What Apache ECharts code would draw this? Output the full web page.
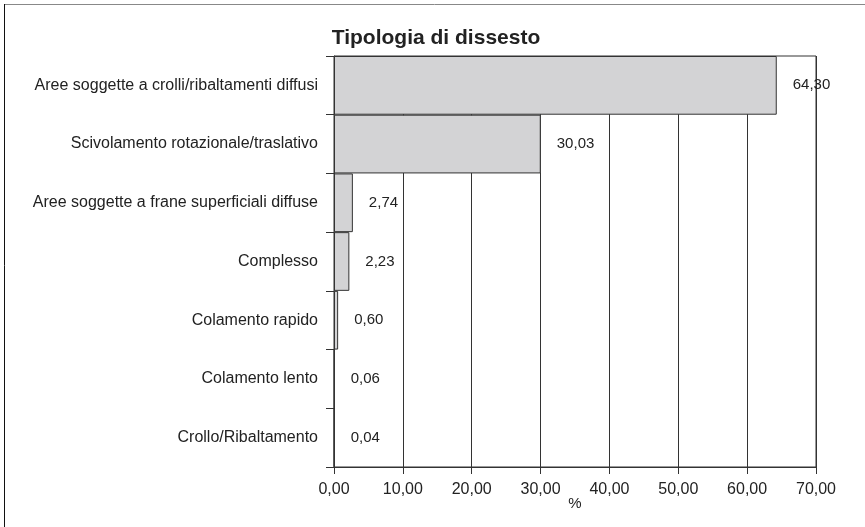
<!DOCTYPE html>
<html>
<head>
<meta charset="utf-8">
<script src="https://cdn.jsdelivr.net/npm/echarts@6/dist/echarts.min.js"></script>
<style>
  html, body { margin: 0; padding: 0; background: #fff; }
  #chart { width: 865px; height: 527px; }
</style>
</head>
<body>
<div id="chart"></div>
<script>
// Landslide types, top to bottom
const categories = [
  'Aree soggette a crolli/ribaltamenti diffusi',
  'Scivolamento rotazionale/traslativo',
  'Aree soggette a frane superficiali diffuse',
  'Complesso',
  'Colamento rapido',
  'Colamento lento',
  'Crollo/Ribaltamento'
];
// Share of each type, percent
const values = [64.30, 30.03, 2.74, 2.23, 0.60, 0.06, 0.04];
// X axis range and step
const xMin = 0, xMax = 70, xStep = 10;

const fmt = v => v.toFixed(2).replace('.', ',');
const font = 'Liberation Sans, Arial, sans-serif';

const chart = echarts.init(document.getElementById('chart'));
chart.setOption({
  animation: false,
  backgroundColor: '#fff',
  grid: {
    left: 334, right: 49, top: 56, bottom: 60,
    show: true, borderColor: '#333', borderWidth: 1, backgroundColor: 'transparent'
  },
  xAxis: {
    type: 'value', min: xMin, max: xMax, interval: xStep,
    axisLine: { show: true, lineStyle: { color: '#333' } },
    axisTick: { show: true, length: 7, lineStyle: { color: '#333' } },
    splitLine: { show: true, lineStyle: { color: '#333', width: 1 } },
    axisLabel: { formatter: fmt, fontFamily: font, fontSize: 16, color: '#222', margin: 15 }
  },
  yAxis: {
    type: 'category', data: categories, inverse: true,
    axisLine: { show: true, lineStyle: { color: '#333' } },
    axisTick: { show: true, length: 8, lineStyle: { color: '#333' } },
    axisLabel: { fontFamily: font, fontSize: 16, color: '#222', margin: 16 }
  },
  series: [{
    type: 'bar', data: values, barCategoryGap: 0,
    itemStyle: { color: '#d3d3d5', borderColor: '#333', borderWidth: 1 },
    label: {
      show: true, position: 'right', distance: 16,
      formatter: p => fmt(p.value),
      fontFamily: font, fontSize: 15, color: '#222'
    }
  }],
  graphic: [
    { type: 'line', shape: { x1: 4, y1: 4.5, x2: 865, y2: 4.5 }, style: { stroke: '#888', lineWidth: 1 } },
    { type: 'line', shape: { x1: 4.5, y1: 4, x2: 4.5, y2: 527 }, style: { stroke: '#111', lineWidth: 1 } },
    { type: 'text', x: 436, y: 38, style: { text: 'Tipologia di dissesto', font: 'bold 21px ' + font, fill: '#222', textAlign: 'center', textVerticalAlign: 'middle' } },
    { type: 'text', x: 575, y: 504, style: { text: '%', font: '15px ' + font, fill: '#222', textAlign: 'center', textVerticalAlign: 'middle' } }
  ]
});
</script>
</body>
</html>
